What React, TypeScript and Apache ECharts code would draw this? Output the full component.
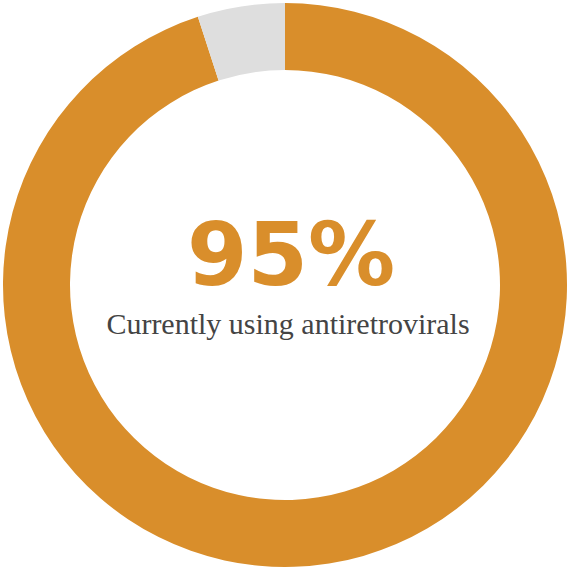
import React, { useEffect, useRef } from "react";
import * as echarts from "echarts";

const categories = ["Currently using antiretrovirals", "Not using"];
const values = [95, 5];
const colors = ["#D98E2B", "#DEDEDE"];
const headline = "95%";
const subtitle = "Currently using antiretrovirals";

export default function App() {
  const ref = useRef<HTMLDivElement>(null);
  useEffect(() => {
    document.body.style.margin = "0";
    const chart = echarts.init(ref.current!, null, { renderer: "svg" });
    chart.setOption({
      animation: false,
      series: [
        {
          type: "pie",
          center: [285, 285],
          radius: [215, 282],
          startAngle: 90,
          clockwise: true,
          label: { show: false },
          labelLine: { show: false },
          emphasis: { disabled: true },
          itemStyle: { borderWidth: 0 },
          data: categories.map((c, i) => ({
            name: c,
            value: values[i],
            itemStyle: { color: colors[i] },
          })),
        },
      ],
      graphic: [
        {
          type: "text",
          x: 291,
          y: 255,
          style: {
            text: headline,
            fill: "#D98E2B",
            fontFamily: "'DejaVu Sans'",
            fontWeight: "bold",
            fontSize: 87,
            lineHeight: 70,
            textAlign: "center",
            textVerticalAlign: "middle",
          },
        },
        {
          type: "text",
          x: 288,
          y: 323,
          style: {
            text: subtitle,
            fill: "#444444",
            fontFamily: "'Liberation Serif'",
            fontSize: 30,
            lineHeight: 30,
            textAlign: "center",
            textVerticalAlign: "middle",
          },
        },
      ],
    });
    return () => chart.dispose();
  }, []);
  return (
    <div
      ref={ref}
      style={{ position: "absolute", left: 0, top: 0, width: 568, height: 568 }}
    />
  );
}
